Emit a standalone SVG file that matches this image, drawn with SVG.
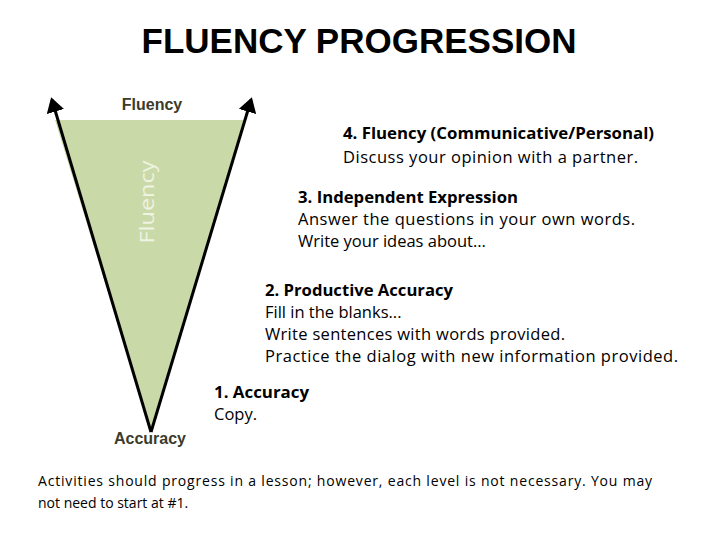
<svg xmlns="http://www.w3.org/2000/svg" width="720" height="540" viewBox="0 0 720 540">
<style>
.t{font-family:"Liberation Sans",Arial,sans-serif;font-weight:bold;font-size:35px;fill:#000}
.lab{font-family:"Liberation Sans",Arial,sans-serif;font-weight:bold;font-size:16px;fill:#3b3b2c}
.b{font-family:"Open Sans","Liberation Sans",sans-serif;font-size:16.5px;fill:#000}
.bb{font-weight:bold}
.f{font-family:"Open Sans","Liberation Sans",sans-serif;font-size:14px;fill:#000}
</style>
<defs><marker id="ah" markerWidth="6" markerHeight="6" refX="4" refY="3" orient="auto" markerUnits="strokeWidth"><path d="M0,0 L5,3 L0,6 z" fill="#000"/></marker></defs>
<text class="t" x="359" y="53" text-anchor="middle">FLUENCY PROGRESSION</text>
<g id="triangle">
<polygon points="55,120 244,120 151,432" fill="#cad9a8"/>
<text x="154" y="202" font-family="Open Sans,Liberation Sans,sans-serif" font-size="20" fill="#eef3e2" text-anchor="middle" transform="rotate(-90 154 202)" textLength="83" lengthAdjust="spacingAndGlyphs">Fluency</text>
</g>
<g id="connectors" stroke="#000" stroke-width="3" fill="none">
<line x1="151" y1="432" x2="52" y2="100" marker-end="url(#ah)"/>
<line x1="151" y1="432" x2="251" y2="100" marker-end="url(#ah)"/>
</g>
<g id="labels">
<text class="lab" x="152" y="110" text-anchor="middle">Fluency</text>
<text class="lab" x="150" y="444" text-anchor="middle">Accuracy</text>
</g>
<g id="level4"><text class="b" x="343" y="139"><tspan class="bb" textLength="311" lengthAdjust="spacingAndGlyphs">4. Fluency (Communicative/Personal)</tspan><tspan x="343" y="163" textLength="295">Discuss your opinion with a partner.</tspan></text></g>
<g id="level3"><text class="b" x="298" y="203"><tspan class="bb" textLength="220" lengthAdjust="spacingAndGlyphs">3. Independent Expression</tspan><tspan x="298" y="225" textLength="337">Answer the questions in your own words.</tspan><tspan x="298" y="247">Write your ideas about…</tspan></text></g>
<g id="level2"><text class="b" x="265" y="296"><tspan class="bb" textLength="188" lengthAdjust="spacingAndGlyphs">2. Productive Accuracy</tspan><tspan x="265" y="318">Fill in the blanks...</tspan><tspan x="265" y="340" textLength="300">Write sentences with words provided.</tspan><tspan x="265" y="362" textLength="413">Practice the dialog with new information provided.</tspan></text></g>
<g id="level1"><text class="b" x="214" y="398"><tspan class="bb" textLength="95" lengthAdjust="spacingAndGlyphs">1. Accuracy</tspan><tspan x="214" y="420">Copy.</tspan></text></g>
<text class="f" x="38" y="486" textLength="614">Activities should progress in a lesson; however, each level is not necessary. You may</text>
<text class="f" x="38" y="508">not need to start at #1.</text>
</svg>
